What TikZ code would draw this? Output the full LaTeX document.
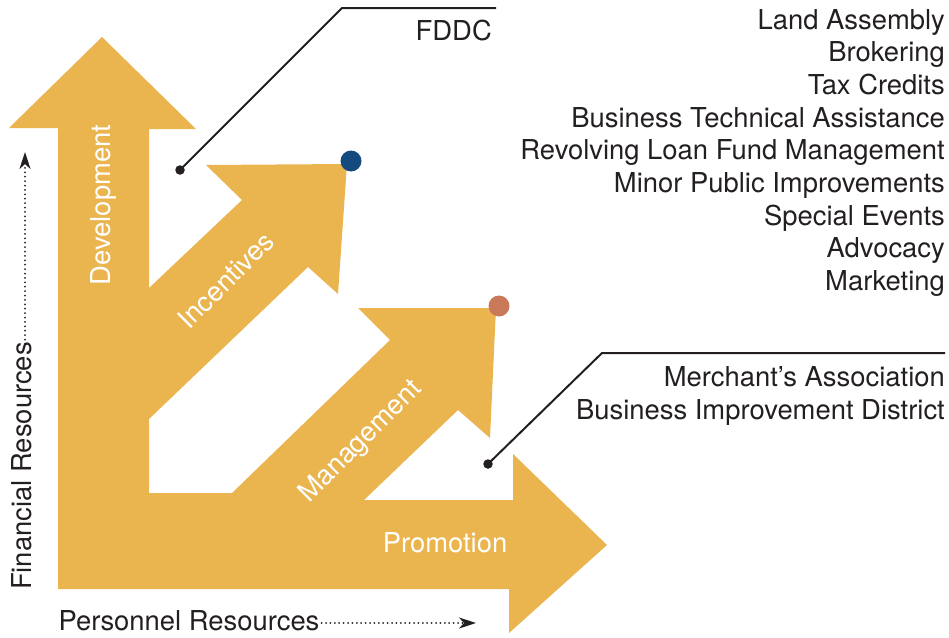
\documentclass[tikz,border=0pt]{standalone}
\usepackage{fontspec}
\setmainfont{TeX Gyre Heros}
\usetikzlibrary{arrows.meta}
\definecolor{arrowfill}{RGB}{234,180,78}
\definecolor{dotblue}{RGB}{21,74,127}
\definecolor{dotorange}{RGB}{201,120,88}
\definecolor{ink}{RGB}{35,31,32}

\begin{document}
\begin{tikzpicture}[x=1pt,y=-1pt,
  lbl/.style={font=\fontsize{27.4}{32}\selectfont, text=ink, inner sep=0pt},
  onarrow/.style={font=\fontsize{27.4}{32}\selectfont, text=white, inner sep=0pt},
  listtext/.style={lbl, anchor=base east},
  leader/.style={draw=ink, line width=2pt},
  pin/.style={circle, fill=ink, inner sep=0pt, minimum size=9.5pt},
  tipdot/.style={circle, inner sep=0pt, minimum size=21pt},
  axis/.style={draw=ink, line width=2pt, line cap=round, dash pattern=on 0pt off 4.4pt,
    -{Stealth[length=17pt,width=11pt,inset=5pt]}},
]
\useasboundingbox (0,0) rectangle (949,637);

% one outline for the four branching arrows
\fill[arrowfill]
  (102,37) -- (196,129) -- (149,129) -- (149,288)
  -- (242,200) -- (206,165) -- (347,164) -- (338,294) -- (308,267)
  -- (149,419) -- (149,493) -- (232,493)
  -- (390,340) -- (358,308) -- (496,308) -- (490,438) -- (458,410)
  -- (364,500) -- (513,500) -- (513,454) -- (607,545) -- (509,633)
  -- (509,589) -- (58,589) -- (58,128) -- (9,128) -- cycle;

% arrow labels
\node[onarrow, rotate=90] (dev) at (103,205) {Development};
\node[onarrow, rotate=45] (inc) at (226,280) {Incentives};
\node[onarrow, rotate=45] (mgmt) at (361,442) {Management};
\node[onarrow] (promo) at (445,543) {Promotion};

% coloured markers at the arrow tips
\node[tipdot, fill=dotblue] (incdot) at (351,161) {};
\node[tipdot, fill=dotorange] (mgmtdot) at (499,306) {};

% resource axes
\node[lbl, rotate=90] (fin) at (22,466) {Financial Resources};
\coordinate (finend) at (25,152);
\draw[axis] ([yshift=-2pt]fin.east -| finend) -- (finend);
\node[lbl] (pers) at (189,621) {Personnel Resources};
\coordinate (persend) at (476,623);
\draw[axis] ([xshift=2pt]pers.east |- persend) -- (persend);

% FDDC call-out
\node[pin] (fddcpin) at (180,170) {};
\coordinate (fddcbend) at (342,8);
\coordinate (fddcend) at (496,8);
\draw[leader] (fddcpin.center) -- (fddcbend) -- (fddcend);
\node[lbl, anchor=base east] (fddc) at (492,40) {FDDC};

\foreach \t [count=\i] in {Land Assembly, Brokering, Tax Credits,
    Business Technical Assistance, Revolving Loan Fund Management,
    Minor Public Improvements, Special Events, Advocacy, Marketing}
  \node[listtext] (item\i) at (945,{29+32.7*(\i-1)}) {\t};

% merchants call-out
\node[pin] (mpin) at (488,464) {};
\coordinate (mbend) at (602,353);
\coordinate (mend) at (945,353);
\draw[leader] (mpin.center) -- (mbend) -- (mend);
\node[listtext] (merch) at (945,386) {Merchant’s Association};
\node[listtext] (bid) at (945,419) {Business Improvement District};
\end{tikzpicture}
\end{document}
